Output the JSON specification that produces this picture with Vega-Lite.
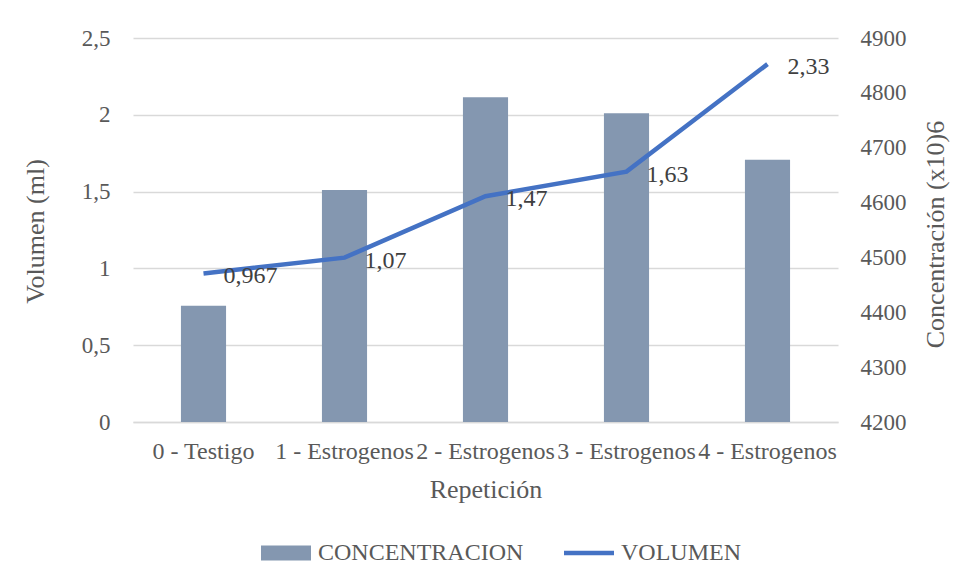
{
  "$schema": "https://vega.github.io/schema/vega-lite/v6.json",
  "width": 705,
  "height": 384,
  "autosize": {"type": "none"},
  "padding": {"left": 133, "top": 38, "right": 130, "bottom": 165},
  "background": "white",
  "config": {
    "font": "Liberation Serif",
    "view": {"stroke": null},
    "locale": {"number": {"decimal": ",", "thousands": ".", "grouping": [3], "currency": ["", ""]}},
    "axis": {"labelFont": "Liberation Serif", "titleFont": "Liberation Serif", "labelFontSize": 23, "titleFontSize": 26, "labelColor": "#595959", "titleColor": "#595959", "titleFontWeight": "normal", "ticks": false, "domain": false},
    "legend": {"labelFont": "Liberation Serif"},
    "text": {"font": "Liberation Serif"}
  },
  "data": {
    "values": [
      {"Repeticion": "0 - Testigo", "CONCENTRACION": 4412, "VOLUMEN": 0.967},
      {"Repeticion": "1 - Estrogenos", "CONCENTRACION": 4623, "VOLUMEN": 1.07},
      {"Repeticion": "2 - Estrogenos", "CONCENTRACION": 4792, "VOLUMEN": 1.47},
      {"Repeticion": "3 - Estrogenos", "CONCENTRACION": 4763, "VOLUMEN": 1.63},
      {"Repeticion": "4 - Estrogenos", "CONCENTRACION": 4678, "VOLUMEN": 2.33}
    ]
  },
  "encoding": {
    "x": {
      "field": "Repeticion", "type": "nominal", "sort": null,
      "scale": {"paddingInner": 0.68, "paddingOuter": 0.34},
      "axis": {"title": "Repetición", "labelAngle": 0, "labelFontSize": 24, "labelPadding": 17, "labelOverlap": false, "labelLimit": 0, "labelBound": false,
               "domain": true, "domainColor": "#D9D9D9", "domainWidth": 1.5,
               "titleY": 67, "titleBaseline": "middle"}
    }
  },
  "layer": [
    {
      "mark": {"type": "bar", "color": "#8497B0"},
      "encoding": {
        "y": {"field": "CONCENTRACION", "type": "quantitative",
              "scale": {"domain": [4200, 4900], "zero": false, "nice": false},
              "axis": {"orient": "right", "title": "Concentración (x10)6", "values": [4200, 4300, 4400, 4500, 4600, 4700, 4800, 4900], "format": "d",
                       "grid": false, "labelPadding": 22, "titleAngle": 270, "titleX": 97, "titleY": 196, "titleBaseline": "middle", "titleAlign": "center"}},
        "y2": {"datum": 4200},
        "color": {"datum": "CONCENTRACION", "type": "nominal",
                  "scale": {"domain": ["CONCENTRACION", "VOLUMEN"], "range": ["#8497B0", "#4472C4"]},
                  "legend": {"orient": "none", "direction": "horizontal", "title": null, "legendX": 128, "legendY": 490,
                             "labelFontSize": 24, "labelColor": "#595959", "labelLimit": 0, "symbolSize": 2500, "labelOffset": 7, "columnPadding": 40,
                             "symbolStrokeWidth": 0,
                             "encode": {"symbols": {"update": {
                               "shape": {"signal": "datum.value === 'VOLUMEN' ? 'M-1,-0.09H1V0.09H-1Z' : 'M-1,-0.3H1V0.3H-1Z'"},
                               "fill": {"signal": "scale('color', datum.value)"},
                               "stroke": {"value": "transparent"}}}}}}
      }
    },
    {
      "encoding": {
        "y": {"field": "VOLUMEN", "type": "quantitative",
              "scale": {"domain": [0, 2.5], "nice": false},
              "axis": {"orient": "left", "title": "Volumen (ml)", "values": [0, 0.5, 1, 1.5, 2, 2.5], "format": ".1~f",
                       "grid": true, "gridColor": "#D9D9D9", "gridWidth": 1.5, "labelPadding": 23,
                       "titleAngle": 270, "titleX": -98, "titleY": 193, "titleBaseline": "middle", "titleAlign": "center"}}
      },
      "layer": [
        {
          "mark": {"type": "line", "strokeWidth": 4.5, "color": "#4472C4"},
          "encoding": {"color": {"datum": "VOLUMEN", "type": "nominal"}}
        },
        {
          "mark": {"type": "text", "align": "left", "baseline": "middle", "dx": 20, "dy": 3, "fontSize": 24, "color": "#404040"},
          "encoding": {"text": {"field": "VOLUMEN", "type": "quantitative", "format": ".3~g"}}
        }
      ]
    }
  ],
  "resolve": {"scale": {"y": "independent"}}
}
